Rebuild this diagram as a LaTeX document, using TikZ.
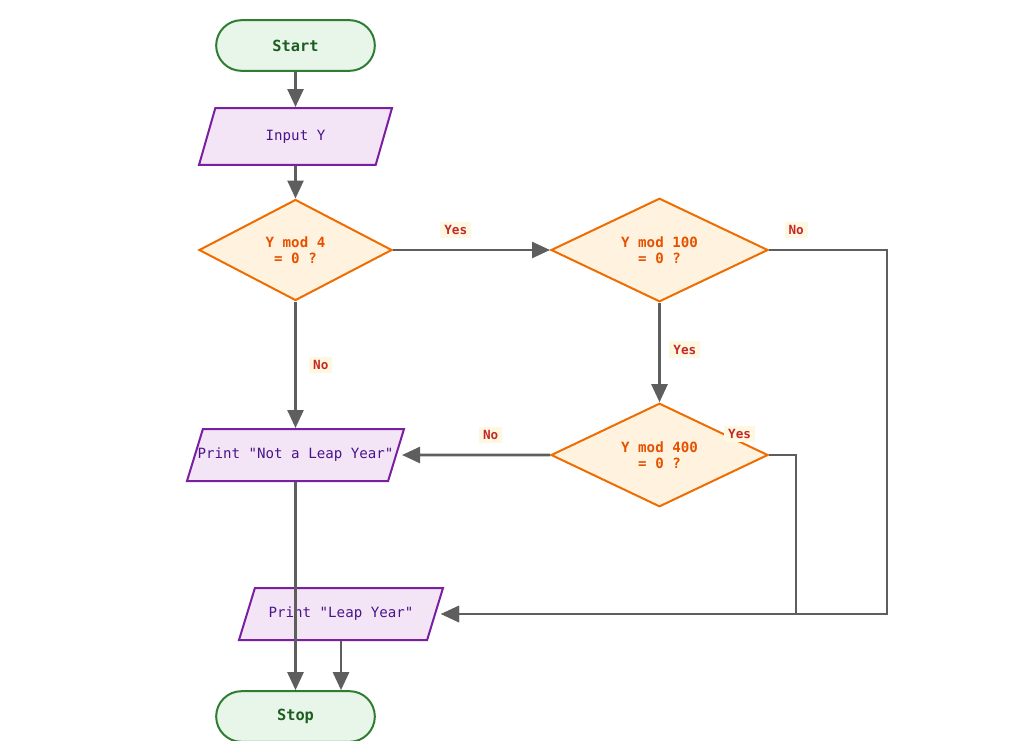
\documentclass[tikz,border=0pt]{standalone}
\usepackage{fontspec}
\setmonofont{DejaVu Sans Mono}
\usepackage{xcolor}
\usepackage{tikz}
\usetikzlibrary{arrows.meta,shapes.geometric}

\definecolor{termfill}{HTML}{E8F5E9}
\definecolor{termline}{HTML}{2E7D32}
\definecolor{termtext}{HTML}{1B5E20}
\definecolor{iofill}{HTML}{F3E5F5}
\definecolor{ioline}{HTML}{7B1FA2}
\definecolor{iotext}{HTML}{4A148C}
\definecolor{decfill}{HTML}{FFF3E0}
\definecolor{decline}{HTML}{EF6C00}
\definecolor{dectext}{HTML}{E65100}
\definecolor{edgeline}{HTML}{5E5E5E}
\definecolor{lblfill}{HTML}{FFF8E1}
\definecolor{lbltext}{HTML}{C62828}

\begin{document}
\begin{tikzpicture}[
  x=0.75pt,
  y=-0.75pt,
  term/.style={
    draw=termline,
    fill=termfill,
    text=termtext,
    line width=1.5pt,
    rounded corners=19pt,
    minimum width=119pt,
    minimum height=38pt,
    font=\ttfamily\bfseries\fontsize{11.5}{13}\selectfont
  },
  io/.style={
    trapezium,
    trapezium left angle=73,
    trapezium right angle=107,
    trapezium stretches body,
    draw=ioline,
    fill=iofill,
    text=iotext,
    line width=1.5pt,
    inner xsep=0pt,
    inner ysep=14.25pt,
    text height=8pt,
    text depth=2.5pt,
    font=\ttfamily\fontsize{10.6}{12.5}\selectfont
  },
  decision/.style={
    diamond,
    draw=decline,
    fill=decfill,
    text=dectext,
    line width=1.5pt,
    inner sep=0pt,
    align=center,
    minimum width=162.75pt,
    minimum height=76.5pt,
    font=\ttfamily\bfseries\fontsize{10.6}{12}\selectfont
  },
  flow/.style={-{Triangle[length=13.5pt,width=12pt]},draw=edgeline,line width=1.9pt},
  lbl/.style={
    fill=lblfill,
    text=lbltext,
    inner xsep=3pt,
    inner ysep=2.5pt,
    font=\ttfamily\bfseries\fontsize{9.5}{10}\selectfont
  }
]
\useasboundingbox (0,0) rectangle (1024,740);
\node[term] (start) at (295.5,45.5) {Start};
\node[io,trapezium left angle=74,trapezium right angle=106,inner ysep=16.1pt,minimum width=144.75pt] (input) at (295.5,136.5) {Input Y};
\node[decision,minimum width=144.75pt,minimum height=75.75pt] (mod4) at (295.5,250) {Y mod 4\\= 0 ?};
\node[decision] (mod100) at (659.5,250) {Y mod 100\\= 0 ?};
\node[decision] (mod400) at (659.5,455) {Y mod 400\\= 0 ?};
\node[io,minimum width=162.75pt] (notleap) at (295.5,455) {\makebox[0pt]{Print "Not a Leap Year"}};
\node[io,minimum width=153pt] (leap) at (341,614) {Print "Leap Year"};
\node[term] (stop) at (295.5,716.5) {Stop};
\coordinate (turn100) at (887,250);
\coordinate (turn400) at (796,455);
\draw[flow] (start.south) -- (input.north);
\draw[flow] (input.south) -- (mod4.north);
\draw[flow] (mod4.east) -- node[lbl,pos=0.4,yshift=15pt] {Yes} (mod100.west);
\draw[flow,shorten >=-2.5pt] (mod100.east) -- node[lbl,pos=0.23,yshift=15pt] {No} (turn100) |- (leap.top right corner |- leap.east);
\draw[flow] (mod100.south) -- node[lbl,pos=0.47,xshift=19pt] {Yes} (mod400.north);
\draw[flow,shorten >=-2.5pt] (mod400.west) -- node[lbl,pos=0.41,yshift=15pt] {No} (notleap.top right corner |- notleap.east);
\draw[flow,shorten >=-2.5pt] (mod400.east) -- node[lbl,pos=0,xshift=-22pt,yshift=16pt] {Yes} (turn400) |- (leap.top right corner |- leap.east);
\draw[flow] (mod4.south) -- node[lbl,pos=0.5,xshift=19pt] {No} (notleap.north);
\draw[flow] (notleap.south) -- (stop.north);
\draw[flow] (leap.south) -- (leap.south |- stop.north);
\end{tikzpicture}
\end{document}
